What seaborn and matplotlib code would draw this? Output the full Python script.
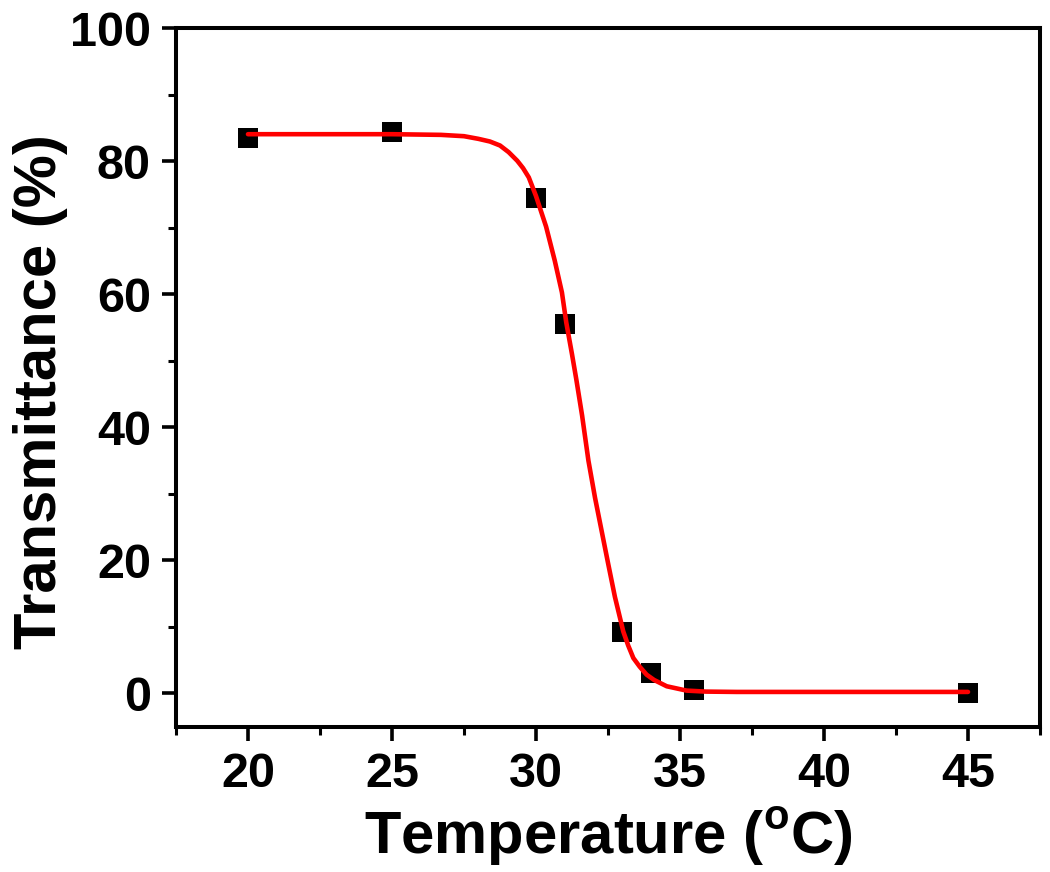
import matplotlib
matplotlib.use("Agg")
import matplotlib.pyplot as plt
import seaborn as sns
import pandas as pd
from matplotlib.ticker import MultipleLocator

# measured data points
temperature = [20, 25, 30, 31, 33, 34, 35.5, 45]
transmittance = [83.6, 84.5, 74.5, 55.6, 9.2, 3.1, 0.5, 0.0]

# fitted curve
fit_temperature = [20, 25, 26.7, 27.5, 28.0, 28.4, 28.75, 29.05, 29.35, 29.55, 29.75, 30.0,
                   30.35, 30.65, 30.9, 31.05, 31.25, 31.4, 31.6, 31.82, 32.05, 32.28,
                   32.51, 32.74, 33.03, 33.2, 33.38, 33.6, 33.84, 34.1, 34.54, 35.23,
                   35.9, 36.97, 45]
fit_transmittance = [84.1, 84.1, 84.0, 83.8, 83.4, 83.0, 82.4, 81.4, 80.1, 79.0, 77.6, 74.8,
                     70.2, 65.1, 60.3, 55.8, 51.0, 47.2, 41.8, 35.0, 29.4, 24.4,
                     19.4, 14.5, 9.3, 7.2, 5.3, 4.0, 2.8, 2.0, 1.05, 0.4,
                     0.25, 0.2, 0.2]

x_ticks = [20, 25, 30, 35, 40, 45]
y_ticks = [0, 20, 40, 60, 80, 100]

sns.set_style("ticks")
plt.rcParams['font.family'] = ['Liberation Sans', 'DejaVu Sans']
plt.rcParams['font.weight'] = 'bold'
plt.rcParams['mathtext.fontset'] = 'custom'
plt.rcParams['mathtext.rm'] = 'Liberation Sans:bold'
plt.rcParams['mathtext.bf'] = 'Liberation Sans:bold'
for k in ['text.color', 'axes.labelcolor', 'xtick.color', 'ytick.color', 'axes.edgecolor']:
    plt.rcParams[k] = 'black'

fig = plt.figure(figsize=(10.5, 8.72), dpi=100)
ax = fig.add_axes([176/1050, (872-726.5)/872, (1040-176)/1050, (726.5-28.5)/872])

pts = pd.DataFrame({"T": temperature, "Tr": transmittance})
fit = pd.DataFrame({"T": fit_temperature, "Tr": fit_transmittance})

sns.scatterplot(data=pts, x="T", y="Tr", marker="s", s=210, color="black",
                linewidth=0, ax=ax, zorder=2)
sns.lineplot(data=fit, x="T", y="Tr", color="#ff0000", linewidth=3.3,
             estimator=None, sort=False, ax=ax, zorder=3)

ax.set_xlim(17.5, 47.5)
ax.set_ylim(-5, 100)
ax.set_xticks(x_ticks)
ax.set_yticks(y_ticks)
ax.xaxis.set_minor_locator(MultipleLocator(2.5))
ax.yaxis.set_minor_locator(MultipleLocator(10))

for sp in ax.spines.values():
    sp.set_visible(True)
    sp.set_linewidth(2.9)
    sp.set_color("black")

ax.tick_params(which="major", direction="out", length=10, width=2.6,
               labelsize=35, pad=8, top=False, right=False, colors="black")
ax.tick_params(which="minor", direction="out", length=6, width=2.2,
               top=False, right=False, colors="black")
for lab in ax.get_xticklabels() + ax.get_yticklabels():
    lab.set_fontweight("bold")

ax.set_xlabel(r"Temperature ($^{\mathrm{o}}$C)", fontsize=43, fontweight="bold",
              labelpad=6, color="black")
ax.set_ylabel("Transmittance (%)", fontsize=43, fontweight="bold", color="black")
ax.yaxis.set_label_coords(-0.125, 0.48)

fig.savefig("out.png", dpi=100)
